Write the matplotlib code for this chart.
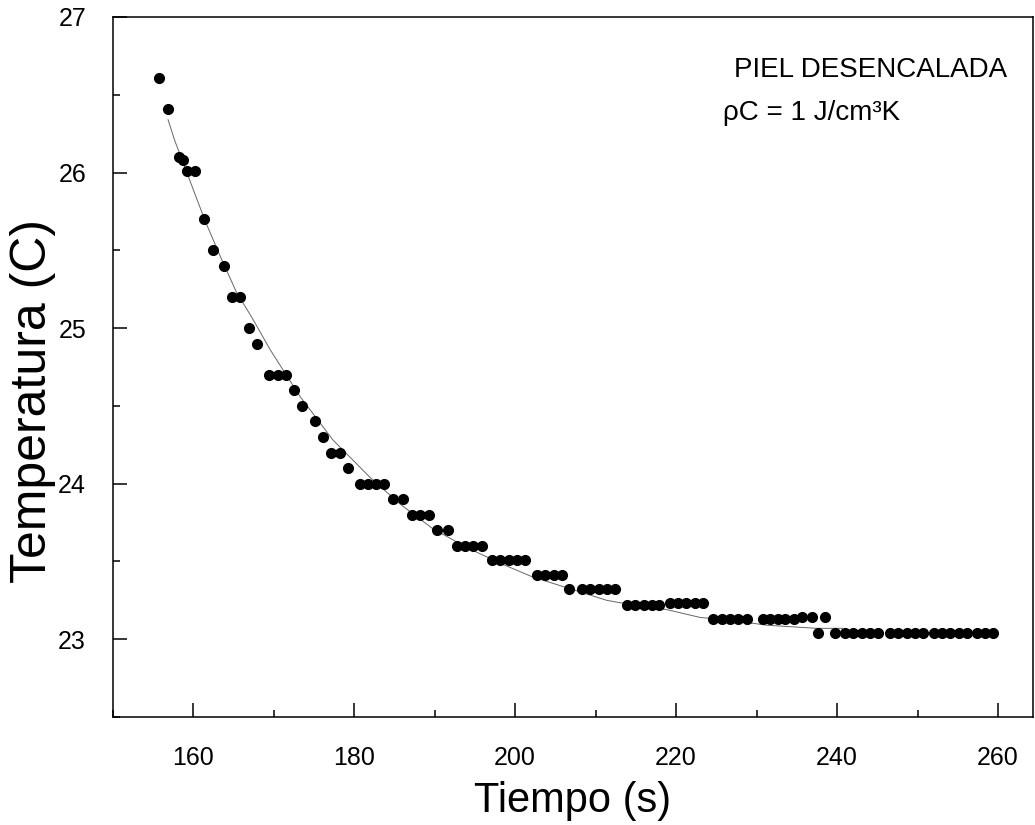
import numpy as np
import matplotlib.pyplot as plt
from matplotlib.ticker import MultipleLocator

# puntos medidos (tiempo en s, temperatura en C)
tiempo = [155.8, 156.9, 158.3, 158.7, 159.3, 160.3, 161.4, 162.5, 163.9,
          164.8, 165.8, 167.0, 168.0, 169.5, 170.5, 171.5, 172.5, 173.6,
          175.1, 176.1, 177.1, 178.2, 179.2, 180.7, 181.7, 182.7, 183.7,
          184.8, 186.1, 187.2, 188.2, 189.3, 190.3, 191.7,
          192.8, 193.8, 194.8, 195.9,
          197.2, 198.1, 199.2, 200.2, 201.2,
          202.7, 203.7, 204.8, 205.8,
          206.7, 208.3, 209.3, 210.4, 211.4, 212.4,
          213.9, 214.9, 216.0, 217.0, 217.9,
          219.3, 220.3, 221.3, 222.4, 223.3,
          224.6, 225.7, 226.7, 227.7, 228.8,
          230.8, 231.7, 232.7, 233.6, 234.6,
          235.6, 236.9, 238.5,
          237.7, 239.7,
          241.0, 242.0, 243.1, 244.1, 245.1,
          246.6, 247.6, 248.7, 249.7, 250.7,
          252.0, 253.0, 254.0, 255.1, 256.1,
          257.4, 258.4, 259.4]
temperatura = [26.61, 26.41, 26.10, 26.08, 26.01, 26.01, 25.70, 25.50, 25.40,
               25.20, 25.20, 25.00, 24.90, 24.70, 24.70, 24.70, 24.60, 24.50,
               24.40, 24.30, 24.20, 24.20, 24.10, 24.00, 24.00, 24.00, 24.00,
               23.90, 23.90, 23.80, 23.80, 23.80, 23.70, 23.70,
               23.60, 23.60, 23.60, 23.60,
               23.51, 23.51, 23.51, 23.51, 23.51,
               23.41, 23.41, 23.41, 23.41,
               23.32, 23.32, 23.32, 23.32, 23.32, 23.32,
               23.22, 23.22, 23.22, 23.22, 23.22,
               23.23, 23.23, 23.23, 23.23, 23.23,
               23.13, 23.13, 23.13, 23.13, 23.13,
               23.13, 23.13, 23.13, 23.13, 23.13,
               23.14, 23.14, 23.14,
               23.04, 23.04,
               23.04, 23.04, 23.04, 23.04, 23.04,
               23.04, 23.04, 23.04, 23.04, 23.04,
               23.04, 23.04, 23.04, 23.04, 23.04,
               23.04, 23.04, 23.04]

# curva de ajuste
ajuste_t = [156.9, 157.7, 159.6, 161.5, 163.4, 165.4, 167.3, 169.6, 173.3,
            177.4, 182.0, 185.7, 189.8, 194.0, 198.1, 202.2, 206.5, 211.4,
            214.7, 218.9, 223.0, 227.1, 231.3, 237.5, 240.7]
ajuste_T = [26.34, 26.21, 25.95, 25.69, 25.46, 25.23, 25.07, 24.86, 24.56,
            24.28, 24.04, 23.87, 23.71, 23.59, 23.49, 23.40, 23.33, 23.25,
            23.22, 23.19, 23.14, 23.12, 23.09, 23.07, 23.07]

plt.rcParams['font.family'] = ['Liberation Sans', 'DejaVu Sans']

fig = plt.figure(figsize=(10.35, 8.25), dpi=100)
ax = fig.add_axes([0.1087, 0.1309, 0.889, 0.8485])

ax.plot(ajuste_t, ajuste_T, color='#666666', lw=0.7, zorder=2)
ax.plot(tiempo, temperatura, 'o', color='black', ms=7, zorder=3)

ax.set_xlim(150, 264.3)
ax.set_ylim(22.5, 27)
ax.xaxis.set_major_locator(MultipleLocator(20))
ax.xaxis.set_minor_locator(MultipleLocator(10))
ax.yaxis.set_major_locator(MultipleLocator(1))
ax.yaxis.set_minor_locator(MultipleLocator(0.5))
ax.tick_params(which='both', direction='in', top=False, right=False, width=1.1)
ax.tick_params(which='major', length=10, labelsize=18)
ax.tick_params(which='minor', length=5)
ax.tick_params(axis='x', which='major', pad=21)
ax.tick_params(axis='y', which='major', pad=19)
for s in ax.spines.values():
    s.set_linewidth(1.1)

ax.set_xlabel('Tiempo (s)', fontsize=30)
ax.xaxis.set_label_coords(0.5, -0.091)
ax.set_ylabel('Temperatura (C)', fontsize=36)
ax.yaxis.set_label_coords(-0.061, 0.451)

ax.text(0.675, 0.914, 'PIEL DESENCALADA', transform=ax.transAxes,
        fontsize=20, va='baseline')
ax.text(0.663, 0.853, 'ρC = 1 J/cm³K', transform=ax.transAxes,
        fontsize=20, va='baseline')

fig.savefig('out.png', dpi=100)
